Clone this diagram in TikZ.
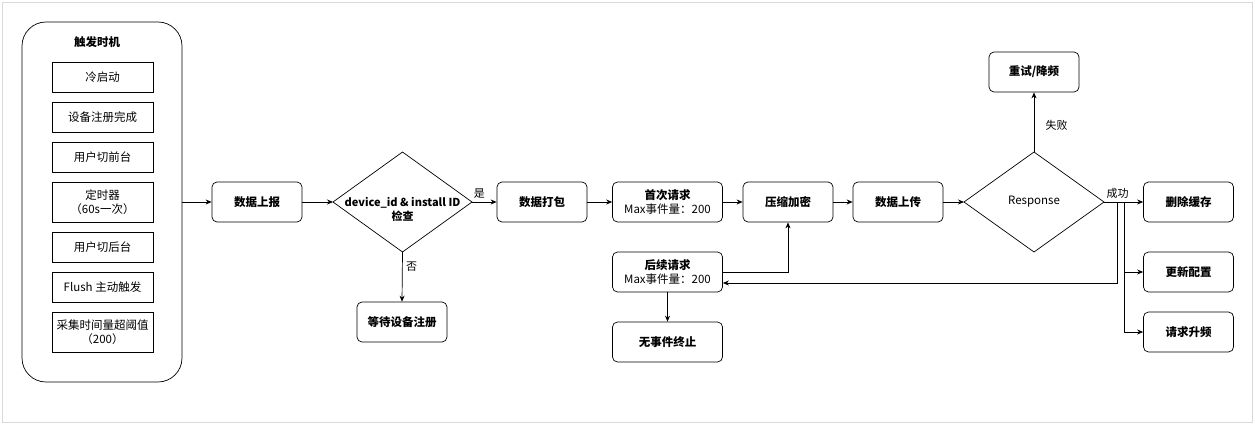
\documentclass[tikz,border=0pt]{standalone}
\usepackage{fontspec}
\setmainfont{Noto Sans CJK SC}
\usetikzlibrary{shapes.geometric,arrows.meta}
\begin{document}
\begin{tikzpicture}[x=1pt,y=-1pt,
  every node/.style={font=\fontsize{11.5}{14}\selectfont},
  rbox/.style={draw,rounded corners=5pt,minimum width=#1,minimum height=40pt,align=center,font=\fontsize{11.5}{14}\selectfont\bfseries,line width=0.7pt,inner sep=1pt},
  rbox/.default=90pt,
  sbox/.style={draw,minimum width=101pt,minimum height=#1,align=center,line width=0.7pt,inner sep=0pt},
  sbox/.default=30pt,
  arr/.style={-{Stealth[length=6pt,width=5pt]},line width=0.7pt},
  lab/.style={font=\fontsize{11}{13}\selectfont}]
\useasboundingbox (0,0) rectangle (1255,425);
\draw[gray!30] (2,2) rectangle (1252,422);
\node[draw,rounded corners=24pt,minimum width=160pt,minimum height=360pt,line width=0.7pt] (cont) at (102,202) {};
\node[font=\fontsize{11.5}{14}\selectfont\bfseries] (title) at (97,42) {触发时机};
\node[sbox] (t1) at (102.5,77) {冷启动};
\node[sbox] (t2) at (102.5,117) {设备注册完成};
\node[sbox] (t3) at (102.5,157) {用户切前台};
\node[sbox=40pt] (t4) at (102.5,202) {定时器\\（60s一次）};
\node[sbox] (t5) at (102.5,247) {用户切后台};
\node[sbox] (t6) at (102.5,287) {Flush 主动触发};
\node[sbox=40pt] (t7) at (102.5,332) {采集时间量超阈值\\（200）};

\node[rbox] (sb) at (257,202) {数据上报};
\coordinate (chkL) at (333,202);
\coordinate (chkR) at (472,202);
\coordinate (chkB) at (402.5,252);
\path[draw,line width=0.7pt] (333,202) -- (402.5,152) -- (472,202) -- (402.5,252) -- cycle;
\node[font=\fontsize{11}{14}\selectfont\bfseries,align=center] (chktxt) at (402.5,209) {device\_id \& install ID\\检查};
\node[rbox] (dbw) at (402,322) {等待设备注册};
\node[rbox] (pack) at (542,202) {数据打包};
\node[rbox=110pt] (first) at (667.5,202) {首次请求\\\mdseries Max事件量：200};
\node[rbox] (enc) at (788,202) {压缩加密};
\node[rbox] (up) at (898,202) {数据上传};
\coordinate (respL) at (964,202);
\coordinate (respR) at (1104,202);
\coordinate (respT) at (1034,152);
\path[draw,line width=0.7pt] (964,202) -- (1034,152) -- (1104,202) -- (1034,252) -- cycle;
\node[font=\fontsize{11.5}{14}\selectfont] (resp) at (1034,202) {Response};
\node[rbox] (retry) at (1034,72) {重试/降频};
\node[rbox=110pt] (next) at (667.5,272) {后续请求\\\mdseries Max事件量：200};
\node[rbox=110pt] (stop) at (667.5,342) {无事件终止};
\node[rbox] (del) at (1188.5,202) {删除缓存};
\node[rbox] (cfg) at (1188.5,272) {更新配置};
\node[rbox] (freq) at (1188.5,332) {请求升频};

\draw[arr] (cont.east) -- (sb.west);
\draw[arr] (sb.east) -- (chkL);
\draw[arr] (chkR) -- node[lab,above,pos=0.3] {是} (pack.west);
\draw[arr] (chkB) -- node[lab,right,pos=0.3] {否} (dbw.north);
\draw[arr] (pack.east) -- (first.west);
\draw[arr] (first.east) -- (enc.west);
\draw[arr] (enc.east) -- (up.west);
\draw[arr] (up.east) -- (respL);
\draw[arr] (respT) -- node[lab,right,pos=0.45,xshift=8pt] {失败} (retry.south);
\draw[arr] (respR) -- node[lab,above,pos=0.35] {成功} (del.west);
\draw[arr] (1117,202) -- (1117,283) -- (next.east |- 0,283);
\draw[arr] (1124,202) |- (cfg.west);
\draw[arr] (1124,202) |- (freq.west);
\draw[arr] (next.east) -| (enc.south);
\draw[arr] (next.south) -- (stop.north);
\end{tikzpicture}
\end{document}
